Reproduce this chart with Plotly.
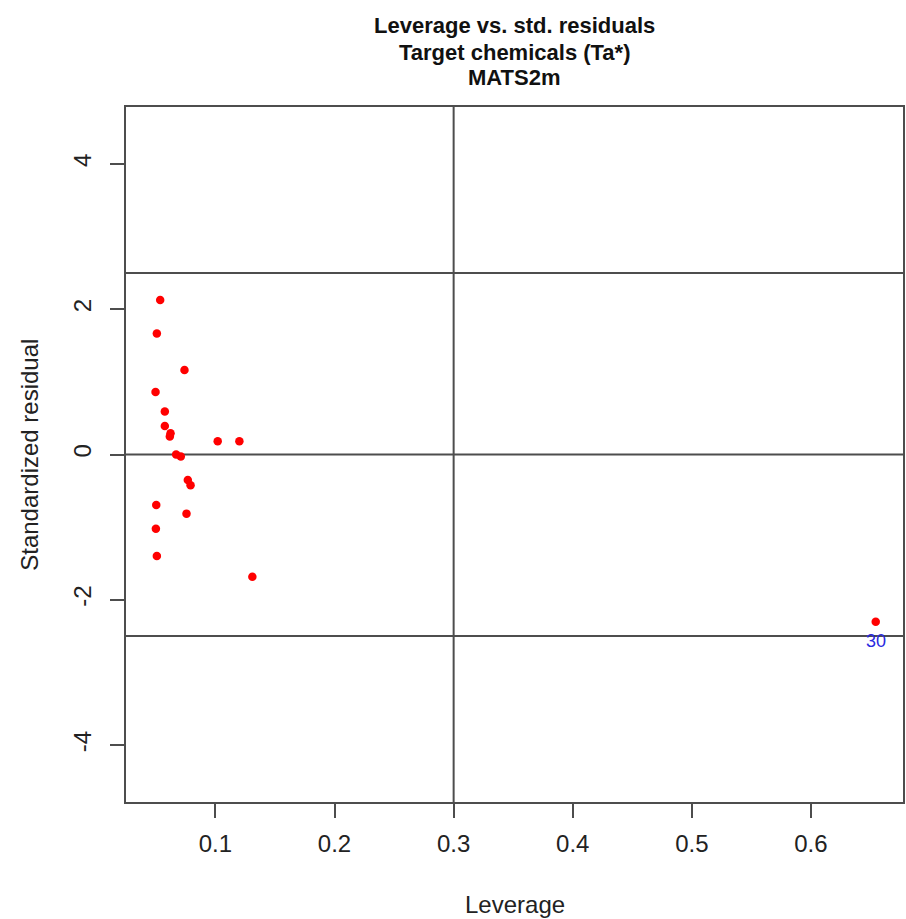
import plotly.graph_objects as go

# Data
leverage = [0.0536, 0.0508, 0.0740, 0.0497, 0.0575, 0.0575, 0.0623, 0.0617, 0.1019, 0.1201,
            0.0670, 0.0709, 0.0768, 0.0791, 0.0503, 0.0757, 0.0500, 0.0508, 0.1310, 0.6544]
std_resid = [2.128, 1.665, 1.164, 0.861, 0.591, 0.393, 0.292, 0.247, 0.182, 0.182,
             -0.001, -0.029, -0.351, -0.424, -0.696, -0.814, -1.021, -1.398, -1.682, -2.302]
outlier_labels = ["30"]
outlier_x = [0.6544]
outlier_y = [-2.302]

h_lines = [2.5, 0.0, -2.5]
v_lines = [0.3]

x_ticks = [0.1, 0.2, 0.3, 0.4, 0.5, 0.6]
y_ticks = [-4, -2, 0, 2, 4]
x_range = [0.0249, 0.6773]
y_range = [-4.784, 4.784]

title_lines = ["Leverage vs. std. residuals", "Target chemicals (Ta*)", "MATS2m"]
x_title = "Leverage"
y_title = "Standardized residual"

FONT = "Liberation Sans, Arial, sans-serif"
LINE_COL = "#4d4d4d"

fig = go.Figure()
fig.add_trace(go.Scatter(x=leverage, y=std_resid, mode="markers",
                         marker=dict(color="red", size=8.5, line=dict(width=0)),
                         showlegend=False, hoverinfo="x+y"))

shapes = []
for h in h_lines:
    shapes.append(dict(type="line", xref="paper", yref="y", x0=0, x1=1, y0=h, y1=h,
                       line=dict(color=LINE_COL, width=2), layer="below"))
for v in v_lines:
    shapes.append(dict(type="line", xref="x", yref="paper", x0=v, x1=v, y0=0, y1=1,
                       line=dict(color=LINE_COL, width=2), layer="below"))

annotations = []
for lab, xo, yo in zip(outlier_labels, outlier_x, outlier_y):
    annotations.append(dict(x=xo, y=yo, xref="x", yref="y", text=lab, showarrow=False,
                            yshift=-19, font=dict(family=FONT, size=18, color="#2a2adf")))

title_y_px = [25, 52, 77]
for t, py in zip(title_lines, title_y_px):
    annotations.append(dict(x=0.5, y=(802 - py) / 695, xref="paper", yref="paper",
                            text="<b>" + t + "</b>", showarrow=False, xanchor="center",
                            yanchor="middle", font=dict(family=FONT, size=22, color="#111111")))

annotations.append(dict(x=0.5, y=(802 - 904) / 695, xref="paper", yref="paper", text=x_title,
                        showarrow=False, xanchor="center", yanchor="middle",
                        font=dict(family=FONT, size=24, color="#222222")))
annotations.append(dict(x=(29 - 126) / 779, y=0.5, xref="paper", yref="paper", text=y_title,
                        showarrow=False, xanchor="center", yanchor="middle", textangle=-90,
                        font=dict(family=FONT, size=24, color="#222222")))

axis_common = dict(showgrid=False, zeroline=False, showline=True, mirror=True,
                   linecolor=LINE_COL, linewidth=2, ticks="outside", ticklen=14,
                   tickwidth=2, tickcolor=LINE_COL,
                   tickfont=dict(family=FONT, size=24, color="#222222"))

fig.update_layout(
    width=906, height=919,
    margin=dict(l=126, r=1, t=107, b=117),
    paper_bgcolor="white", plot_bgcolor="white",
    xaxis=dict(range=x_range, tickvals=x_ticks, ticktext=[str(v) for v in x_ticks],
               ticklabelstandoff=5, **axis_common),
    yaxis=dict(range=y_range, tickvals=y_ticks, ticktext=[str(v) for v in y_ticks],
               tickangle=-90, ticklabelstandoff=9, **axis_common),
    shapes=shapes, annotations=annotations, showlegend=False,
)

fig.write_html("out.html")
